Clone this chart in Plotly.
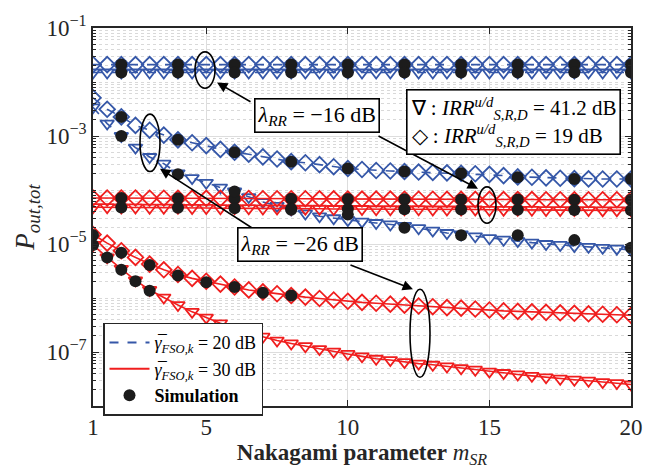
import numpy as np
import plotly.graph_objects as go

# ---------------- data ----------------
m_sr = [1, 1.5, 2, 2.5, 3, 3.5, 4, 4.5, 5, 5.5, 6, 6.5, 7, 7.5, 8, 8.5, 9, 9.5, 10, 10.5,
        11, 11.5, 12, 12.5, 13, 13.5, 14, 14.5, 15, 15.5, 16, 16.5, 17, 17.5, 18, 18.5, 19, 19.5, 20]

# gamma_FSO = 20 dB (blue), lambda_RR = -16 dB
b16_irr19 = [2.1e-2, 2.1e-2, 2.1e-2, 2.1e-2, 2.1e-2, 2.1e-2, 2.1e-2, 2.1e-2, 2.1e-2, 2.1e-2,
             2.1e-2, 2.1e-2, 2.1e-2, 2.1e-2, 2.1e-2, 2.1e-2, 2.1e-2, 2.1e-2, 2.1e-2, 2.1e-2,
             2.1e-2, 2.1e-2, 2.1e-2, 2.1e-2, 2.1e-2, 2.1e-2, 2.1e-2, 2.1e-2, 2.1e-2, 2.1e-2,
             2.1e-2, 2.1e-2, 2.1e-2, 2.1e-2, 2.1e-2, 2.1e-2, 2.1e-2, 2.1e-2, 2.1e-2]
b16_irr41 = [1.5e-2, 1.5e-2, 1.5e-2, 1.5e-2, 1.5e-2, 1.5e-2, 1.5e-2, 1.5e-2, 1.5e-2, 1.5e-2,
             1.5e-2, 1.5e-2, 1.5e-2, 1.5e-2, 1.5e-2, 1.5e-2, 1.5e-2, 1.5e-2, 1.5e-2, 1.5e-2,
             1.5e-2, 1.5e-2, 1.5e-2, 1.5e-2, 1.5e-2, 1.5e-2, 1.5e-2, 1.5e-2, 1.5e-2, 1.5e-2,
             1.5e-2, 1.5e-2, 1.5e-2, 1.5e-2, 1.5e-2, 1.5e-2, 1.5e-2, 1.5e-2, 1.5e-2]
# gamma_FSO = 20 dB (blue), lambda_RR = -26 dB
b26_irr19 = [5.1e-3, 3.13e-3, 2.26e-3, 1.57e-3, 1.28e-3, 1.04e-3, 8.5e-4, 7.5e-4, 6.65e-4, 5.65e-4,
             5.0e-4, 4.6e-4, 4.1e-4, 3.75e-4, 3.35e-4, 3.2e-4, 2.95e-4, 2.7e-4, 2.5e-4, 2.4e-4,
             2.3e-4, 2.25e-4, 2.2e-4, 2.15e-4, 2.12e-4, 2.08e-4, 2.04e-4, 2.0e-4, 1.95e-4, 1.85e-4,
             1.75e-4, 1.72e-4, 1.68e-4, 1.65e-4, 1.62e-4, 1.61e-4, 1.6e-4, 1.6e-4, 1.6e-4]
b26_irr41 = [3.4e-3, 1.7e-3, 1.0e-3, 6.1e-4, 4.08e-4, 3.07e-4, 2.04e-4, 1.66e-4, 1.36e-4, 1.11e-4,
             9.4e-5, 7.4e-5, 6.0e-5, 5.1e-5, 4.34e-5, 3.68e-5, 3.26e-5, 3.0e-5, 2.77e-5, 2.6e-5,
             2.45e-5, 2.3e-5, 2.17e-5, 1.96e-5, 1.77e-5, 1.6e-5, 1.5e-5, 1.39e-5, 1.28e-5, 1.2e-5,
             1.13e-5, 1.06e-5, 1.0e-5, 9.6e-6, 9.2e-6, 8.85e-6, 8.5e-6, 8.2e-6, 7.8e-6]
# gamma_FSO = 30 dB (red), lambda_RR = -16 dB
r16_irr19 = [7.1e-5, 7.1e-5, 7.1e-5, 7.1e-5, 7.05e-5, 7.05e-5, 7.0e-5, 7.0e-5, 7.0e-5, 7.0e-5,
             6.95e-5, 6.95e-5, 6.9e-5, 6.9e-5, 6.9e-5, 6.9e-5, 6.85e-5, 6.85e-5, 6.8e-5, 6.8e-5,
             6.8e-5, 6.8e-5, 6.75e-5, 6.75e-5, 6.75e-5, 6.7e-5, 6.7e-5, 6.7e-5, 6.7e-5, 6.65e-5,
             6.65e-5, 6.65e-5, 6.6e-5, 6.6e-5, 6.6e-5, 6.6e-5, 6.6e-5, 6.6e-5, 6.6e-5]
r16_irr41 = [4.8e-5, 4.8e-5, 4.75e-5, 4.75e-5, 4.7e-5, 4.7e-5, 4.7e-5, 4.65e-5, 4.65e-5, 4.6e-5,
             4.6e-5, 4.6e-5, 4.55e-5, 4.55e-5, 4.5e-5, 4.5e-5, 4.5e-5, 4.45e-5, 4.45e-5, 4.45e-5,
             4.4e-5, 4.4e-5, 4.4e-5, 4.4e-5, 4.35e-5, 4.35e-5, 4.35e-5, 4.35e-5, 4.3e-5, 4.3e-5,
             4.3e-5, 4.3e-5, 4.25e-5, 4.25e-5, 4.25e-5, 4.25e-5, 4.2e-5, 4.2e-5, 4.2e-5]
# gamma_FSO = 30 dB (red), lambda_RR = -26 dB
r26_irr19 = [1.5e-5, 1.04e-5, 7.5e-6, 5.65e-6, 4.25e-6, 3.33e-6, 2.72e-6, 2.31e-6, 2.04e-6, 1.81e-6,
             1.6e-6, 1.41e-6, 1.3e-6, 1.2e-6, 1.11e-6, 1.04e-6, 9.8e-7, 9.2e-7, 8.7e-7, 8.3e-7,
             8.0e-7, 7.7e-7, 7.4e-7, 7.1e-7, 6.9e-7, 6.65e-7, 6.5e-7, 6.25e-7, 6.0e-7, 5.77e-7,
             5.65e-7, 5.54e-7, 5.43e-7, 5.32e-7, 5.21e-7, 5.1e-7, 5.0e-7, 4.9e-7, 4.8e-7]
r26_irr41 = [9.6e-6, 5.65e-6, 3.47e-6, 2.12e-6, 1.41e-6, 1.02e-6, 7.4e-7, 5.54e-7, 4.33e-7, 3.4e-7,
             2.77e-7, 2.26e-7, 1.92e-7, 1.63e-7, 1.44e-7, 1.28e-7, 1.13e-7, 1.02e-7, 9.2e-8, 8.3e-8,
             7.5e-8, 7.1e-8, 6.5e-8, 6.1e-8, 5.8e-8, 5.4e-8, 5.0e-8, 4.7e-8, 4.34e-8, 4.08e-8,
             3.84e-8, 3.61e-8, 3.4e-8, 3.2e-8, 3.07e-8, 2.94e-8, 2.77e-8, 2.66e-8, 2.5e-8]

# simulation points
sim_x = [2, 4, 6, 8, 10, 12, 14, 16, 18, 20]
sim_b16_irr19 = [2.1e-2, 2.1e-2, 2.1e-2, 2.1e-2, 2.1e-2, 2.1e-2, 2.1e-2, 2.1e-2, 2.1e-2, 2.1e-2]
sim_b16_irr41 = [1.5e-2, 1.5e-2, 1.5e-2, 1.5e-2, 1.5e-2, 1.5e-2, 1.5e-2, 1.5e-2, 1.5e-2, 1.5e-2]
sim_r16_irr19 = [7.1e-5, 7.0e-5, 6.95e-5, 6.9e-5, 6.8e-5, 6.75e-5, 6.7e-5, 6.65e-5, 6.6e-5, 6.6e-5]
sim_r16_irr41 = [4.75e-5, 4.7e-5, 4.6e-5, 4.5e-5, 4.45e-5, 4.4e-5, 4.35e-5, 4.3e-5, 4.25e-5, 4.2e-5]
sim_b26_irr19 = [2.26e-3, 8.5e-4, 5.0e-4, 3.33e-4, 2.5e-4, 2.21e-4, 2.04e-4, 1.73e-4, 1.6e-4, 1.6e-4]
sim_b26_irr41 = [1.0e-3, 1.96e-4, 9.4e-5, 4.3e-5, 3.5e-5, 2.0e-5, 1.45e-5, 1.45e-5, 1.18e-5, 8.5e-6]
sim_r26_irr19_x = [1, 2, 3, 4, 5, 6, 7, 8]
sim_r26_irr19 = [1.46e-5, 6.9e-6, 4.08e-6, 2.61e-6, 1.96e-6, 1.6e-6, 1.25e-6, 1.11e-6]
sim_r26_irr41_x = [1, 1.5, 2, 2.5, 3]
sim_r26_irr41 = [9.6e-6, 5.65e-6, 3.33e-6, 2.04e-6, 1.36e-6]

x_ticks = [1, 5, 10, 15, 20]
y_ticks = [1e-7, 1e-5, 1e-3, 1e-1]
y_ticktext = ["10<sup>\u22127</sup>", "10<sup>\u22125</sup>", "10<sup>\u22123</sup>", "10<sup>\u22121</sup>"]

# ---------------- style ----------------
BLUE = "#3557a8"
RED = "#f01e1e"
DOT = "#1c1c1c"
FONT = "Liberation Serif"
L, R, T, B = 93, 33, 15, 61
W, H = 664, 471
PW, PH = W - L - R, H - T - B

fig = go.Figure()


def theory(y, color, symbol, dash):
    fig.add_trace(go.Scatter(
        x=m_sr, y=y, mode="lines+markers", showlegend=False,
        line=dict(color=color, width=1.6, dash=dash),
        marker=dict(symbol=symbol, size=12, color=color, line=dict(color=color, width=1.8))))


theory(b16_irr19, BLUE, "diamond-open", "dash")
theory(b16_irr41, BLUE, "triangle-down-open", "dash")
theory(b26_irr19, BLUE, "diamond-open", "dash")
theory(b26_irr41, BLUE, "triangle-down-open", "dash")
theory(r16_irr19, RED, "diamond-open", "solid")
theory(r16_irr41, RED, "triangle-down-open", "solid")
theory(r26_irr19, RED, "diamond-open", "solid")
theory(r26_irr41, RED, "triangle-down-open", "solid")

for sx, sy in [(sim_x, sim_b16_irr19), (sim_x, sim_b16_irr41), (sim_x, sim_r16_irr19),
               (sim_x, sim_r16_irr41), (sim_x, sim_b26_irr19), (sim_x, sim_b26_irr41),
               (sim_r26_irr19_x, sim_r26_irr19), (sim_r26_irr41_x, sim_r26_irr41)]:
    fig.add_trace(go.Scatter(x=sx, y=sy, mode="markers", showlegend=False,
                             marker=dict(symbol="circle", size=12, color=DOT)))

# legend entries
fig.add_trace(go.Scatter(x=[None], y=[None], mode="lines", line=dict(color=BLUE, width=2, dash="dash"),
                         name="<i>\u03b3\u0305</i><sub><i>FSO,k</i></sub> = 20 dB"))
fig.add_trace(go.Scatter(x=[None], y=[None], mode="lines", line=dict(color=RED, width=2),
                         name="<i>\u03b3\u0305</i><sub><i>FSO,k</i></sub> = 30 dB"))
fig.add_trace(go.Scatter(x=[None], y=[None], mode="markers", marker=dict(size=12, color=DOT),
                         name="<b>Simulation</b>"))


def pxd(px):
    return (px - L) / PW


def pyd(py):
    return (H - B - py) / PH


# ellipses (pixel centres / radii)
for cx, cy, rx, ry in [(205, 59, 10, 19), (487, 200, 9, 19), (150, 135, 10, 30), (420, 334, 10, 46)]:
    fig.add_shape(type="circle", xref="x domain", yref="y domain",
                  x0=pxd(cx - rx), x1=pxd(cx + rx), y0=pyd(cy + ry), y1=pyd(cy - ry),
                  line=dict(color="black", width=1.6))

# arrows: tail -> head
for tx, ty, hx, hy in [(252, 93, 217, 72), (377, 127, 478, 183), (258, 228, 160, 162), (349, 262, 413, 288)]:
    fig.add_annotation(xref="x domain", yref="y domain", axref="x domain", ayref="y domain",
                       x=pxd(hx), y=pyd(hy), ax=pxd(tx), ay=pyd(ty), text="", showarrow=True,
                       arrowhead=2, arrowsize=1.3, arrowwidth=1.6, arrowcolor="black")

# text boxes
box = dict(xref="x domain", yref="y domain", showarrow=False, xanchor="center", yanchor="middle",
           bgcolor="white", bordercolor="black", borderwidth=1.6)
fig.add_annotation(x=pxd(317), y=pyd(106),
                   text="<i>\u03bb</i><sub><i>RR</i></sub> = \u221216 dB",
                   font=dict(family=FONT, size=22, color="black"), borderpad=2, **box)
fig.add_annotation(x=pxd(300), y=pyd(241),
                   text="<i>\u03bb</i><sub><i>RR</i></sub> = \u221226 dB",
                   font=dict(family=FONT, size=22, color="black"), borderpad=2, **box)
fig.add_annotation(x=pxd(513), y=pyd(113), align="left",
                   text="\u2207 : <i>IRR</i><sup><i>u/d</i></sup><sub><i>S,R,D</i></sub> = 41.2 dB<br>"
                        "\u25c7 : <i>IRR</i><sup><i>u/d</i></sup><sub><i>S,R,D</i></sub> = 19 dB",
                   font=dict(family=FONT, size=21, color="black"), borderpad=3, **box)

fig.update_layout(
    width=W, height=H,
    margin=dict(l=L, r=R, t=T, b=B),
    paper_bgcolor="white", plot_bgcolor="white",
    font=dict(family=FONT, size=20, color="#262626"),
    legend=dict(x=pxd(103), y=pyd(323), xanchor="left", yanchor="top",
                bgcolor="white", bordercolor="#262626", borderwidth=1.5,
                font=dict(family=FONT, size=18, color="black"),
                tracegroupgap=0, itemwidth=40),
    xaxis=dict(range=[1, 20], tickvals=x_ticks, ticks="inside", ticklen=6, tickwidth=1.2,
               tickcolor="#262626", showline=True, linecolor="#262626", linewidth=1.6,
               mirror="ticks", showgrid=True, gridcolor="#dddddd", gridwidth=1, zeroline=False,
               ticklabeloverflow="allow",
               tickfont=dict(family=FONT, size=23, color="#262626"),
               title=dict(text="<b>Nakagami parameter</b> <i>m</i><sub><i>SR</i></sub>",
                          font=dict(family=FONT, size=23, color="#262626"), standoff=2)),
    yaxis=dict(type="log", range=[-8, -1], tickvals=y_ticks, ticktext=y_ticktext,
               ticks="inside", ticklen=6, tickwidth=1.2, tickcolor="#262626",
               showline=True, linecolor="#262626", linewidth=1.6, mirror="ticks",
               showgrid=True, gridcolor="#dddddd", gridwidth=1, zeroline=False,
               ticklabeloverflow="allow",
               tickfont=dict(family=FONT, size=23, color="#262626"),
               minor=dict(tickvals=[k * 10.0 ** n for n in range(-8, -1) for k in range(1, 10)
                                    if not (k == 1 and n in (-7, -5, -3))],
                          ticks="inside", ticklen=3, tickcolor="#262626",
                          showgrid=True, gridcolor="#d9d9d9", griddash="dot", gridwidth=1),
               title=dict(text="<i>P</i><sub><i>out,tot</i></sub>",
                          font=dict(family=FONT, size=27, color="#262626"), standoff=4)),
)

fig.write_html("out.html")
